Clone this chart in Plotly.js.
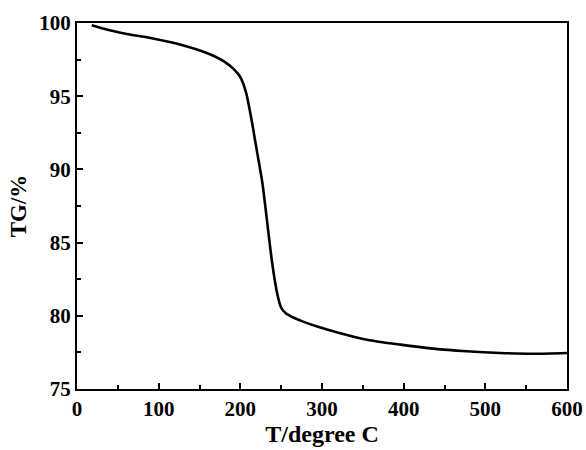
<!DOCTYPE html>
<html>
<head>
<meta charset="utf-8">
<script src="https://cdn.plot.ly/plotly-3.0.1.min.js"></script>
<style>html,body{margin:0;padding:0;background:#fff;}#chart{width:586px;height:450px;}</style>
</head>
<body>
<div id="chart"></div>
<script>
const temperature = [18, 40, 61, 90, 127, 159, 180, 192, 200, 207, 214, 220, 227, 233, 239, 245, 250, 256, 264, 276, 295, 320, 355, 396, 436, 477, 518, 559, 600];
const tgPercent = [99.84, 99.5, 99.25, 98.97, 98.52, 97.95, 97.38, 96.85, 96.3, 95.25, 93.3, 91.35, 89.07, 86.34, 83.61, 81.56, 80.55, 80.15, 79.9, 79.62, 79.25, 78.85, 78.37, 78.03, 77.76, 77.58, 77.46, 77.41, 77.46];
const xTicks = [0, 100, 200, 300, 400, 500, 600];
const yTicks = [75, 80, 85, 90, 95, 100];

const font = {family: '"Liberation Serif", "Times New Roman", serif', color: '#000'};

Plotly.newPlot('chart', [{
  x: temperature,
  y: tgPercent,
  type: 'scatter',
  mode: 'lines',
  line: {color: '#000', width: 2.6, shape: 'spline', smoothing: 0.8},
  hoverinfo: 'skip'
}], {
  width: 586, height: 450,
  margin: {l: 76.5, r: 19, t: 23, b: 61, pad: 0},
  paper_bgcolor: '#fff', plot_bgcolor: '#fff',
  showlegend: false,
  xaxis: {
    range: [0, 600], tickvals: xTicks, ticktext: xTicks.map(String),
    showline: true, linecolor: '#000', linewidth: 2, mirror: true,
    ticks: 'inside', ticklen: 6, tickwidth: 2, tickcolor: '#000',
    minor: {dtick: 50, ticks: 'inside', ticklen: 4, tickwidth: 2, tickcolor: '#000', showgrid: false},
    showgrid: false, zeroline: false,
    tickfont: Object.assign({size: 21, weight: 'bold'}, font),
    title: {text: '<b>T/degree C</b>', font: Object.assign({size: 24}, font), standoff: 4}
  },
  yaxis: {
    range: [75, 100], tickvals: yTicks, ticktext: yTicks.map(String),
    showline: true, linecolor: '#000', linewidth: 2, mirror: true,
    ticks: 'inside', ticklen: 6, tickwidth: 2, tickcolor: '#000',
    minor: {dtick: 2.5, ticks: 'inside', ticklen: 4, tickwidth: 2, tickcolor: '#000', showgrid: false},
    showgrid: false, zeroline: false,
    tickfont: Object.assign({size: 21, weight: 'bold'}, font),
    title: {text: '<b>TG/%</b>', font: Object.assign({size: 23}, font), standoff: 6}
  }
}, {staticPlot: true, displayModeBar: false});
</script>
</body>
</html>
